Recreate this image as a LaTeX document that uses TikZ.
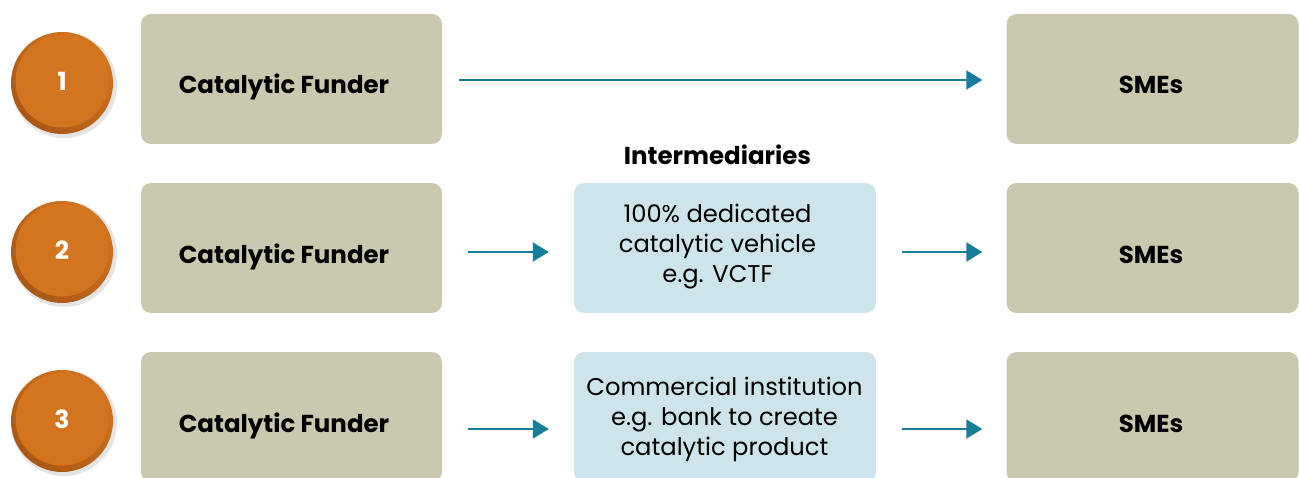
\documentclass[tikz,border=0pt]{standalone}
\usepackage{fontspec}
\setmainfont{Poppins}
\usetikzlibrary{arrows.meta}
\definecolor{tan}{HTML}{CBC8B0}
\definecolor{lblue}{HTML}{CDE4EA}
\definecolor{teal}{HTML}{177E99}
\definecolor{orng}{HTML}{D3741F}
\definecolor{orngd}{HTML}{A95815}
\tikzset{
  tanbox/.style={fill=tan, rounded corners=10pt, minimum width=301pt, minimum height=130pt, inner sep=0pt, draw=none},
  bluebox/.style={fill=lblue, rounded corners=10pt, minimum width=302pt, minimum height=130pt, inner sep=0pt, draw=none},
  btxt/.style={anchor=base, font=\fontsize{24.5}{30}\selectfont\bfseries, text=black, inner sep=0pt},
  rtxt/.style={anchor=base, font=\fontsize{24.2}{30}\selectfont, text=black, inner sep=0pt, align=center},
  flow/.style={draw=teal, line width=2pt, -{Triangle[length=16pt,width=19pt]}},
  numc/.style={circle, fill=orng, minimum size=93pt, inner sep=0pt, text=white, font=\fontsize{25}{25}\selectfont\bfseries},
}
\begin{document}
\begin{tikzpicture}[x=1pt,y=-1pt]
\useasboundingbox (0,0) rectangle (1300,478);
\clip (0,0) rectangle (1300,478);
% number circles
\foreach \i/\yy in {1/82,2/251,3/420}{
  \fill[black, opacity=0.10] (64,\yy+3) circle (53);
  \shade[left color=orng, right color=orngd, shading angle=-45] (62,\yy+1) circle (51);
  \node[numc] (n\i) at (62,\yy-1) {\i};
}
% boxes
\node[tanbox] (cf1) at (291.5,79) {};
\node[tanbox] (cf2) at (291.5,248) {};
\node[tanbox] (cf3) at (291.5,417) {};
\node[tanbox, minimum width=292pt] (sm1) at (1152.5,79) {};
\node[tanbox, minimum width=292pt] (sm2) at (1152.5,248) {};
\node[tanbox, minimum width=292pt] (sm3) at (1152.5,417) {};
\node[bluebox] (im2) at (725,248) {};
\node[bluebox] (im3) at (725,417) {};
% texts
\node[btxt] (cf1t) at (284,94) {Catalytic Funder};
\node[btxt] (cf2t) at (284,263) {Catalytic Funder};
\node[btxt] (cf3t) at (284,432) {Catalytic Funder};
\node[btxt] (sm1t) at (1151,94) {SMEs};
\node[btxt] (sm2t) at (1151,263) {SMEs};
\node[btxt] (sm3t) at (1151,432) {SMEs};
\node[btxt] (intt) at (717.5,165) {Intermediaries};
\node[rtxt] (im2t) at (717.5,283) {100\% dedicated\\catalytic vehicle\\e.g. VCTF};
\node[rtxt] (im3t) at (724.5,455) {Commercial institution\\e.g. bank to create\\catalytic product};
% arrows
\draw[flow, shorten <=17pt, shorten >=24pt] ([yshift=-1pt]cf1.east) -- ([yshift=-1pt]sm1.west);
\draw[flow, shorten <=26pt, shorten >=25pt] ([yshift=-4pt]cf2.east) -- ([yshift=-4pt]im2.west);
\draw[flow, shorten <=26pt, shorten >=24pt] ([yshift=-4pt]im2.east) -- ([yshift=-4pt]sm2.west);
\draw[flow, shorten <=26pt, shorten >=25pt] ([yshift=-12pt]cf3.east) -- ([yshift=-12pt]im3.west);
\draw[flow, shorten <=26pt, shorten >=24pt] ([yshift=-12pt]im3.east) -- ([yshift=-12pt]sm3.west);
\end{tikzpicture}
\end{document}
